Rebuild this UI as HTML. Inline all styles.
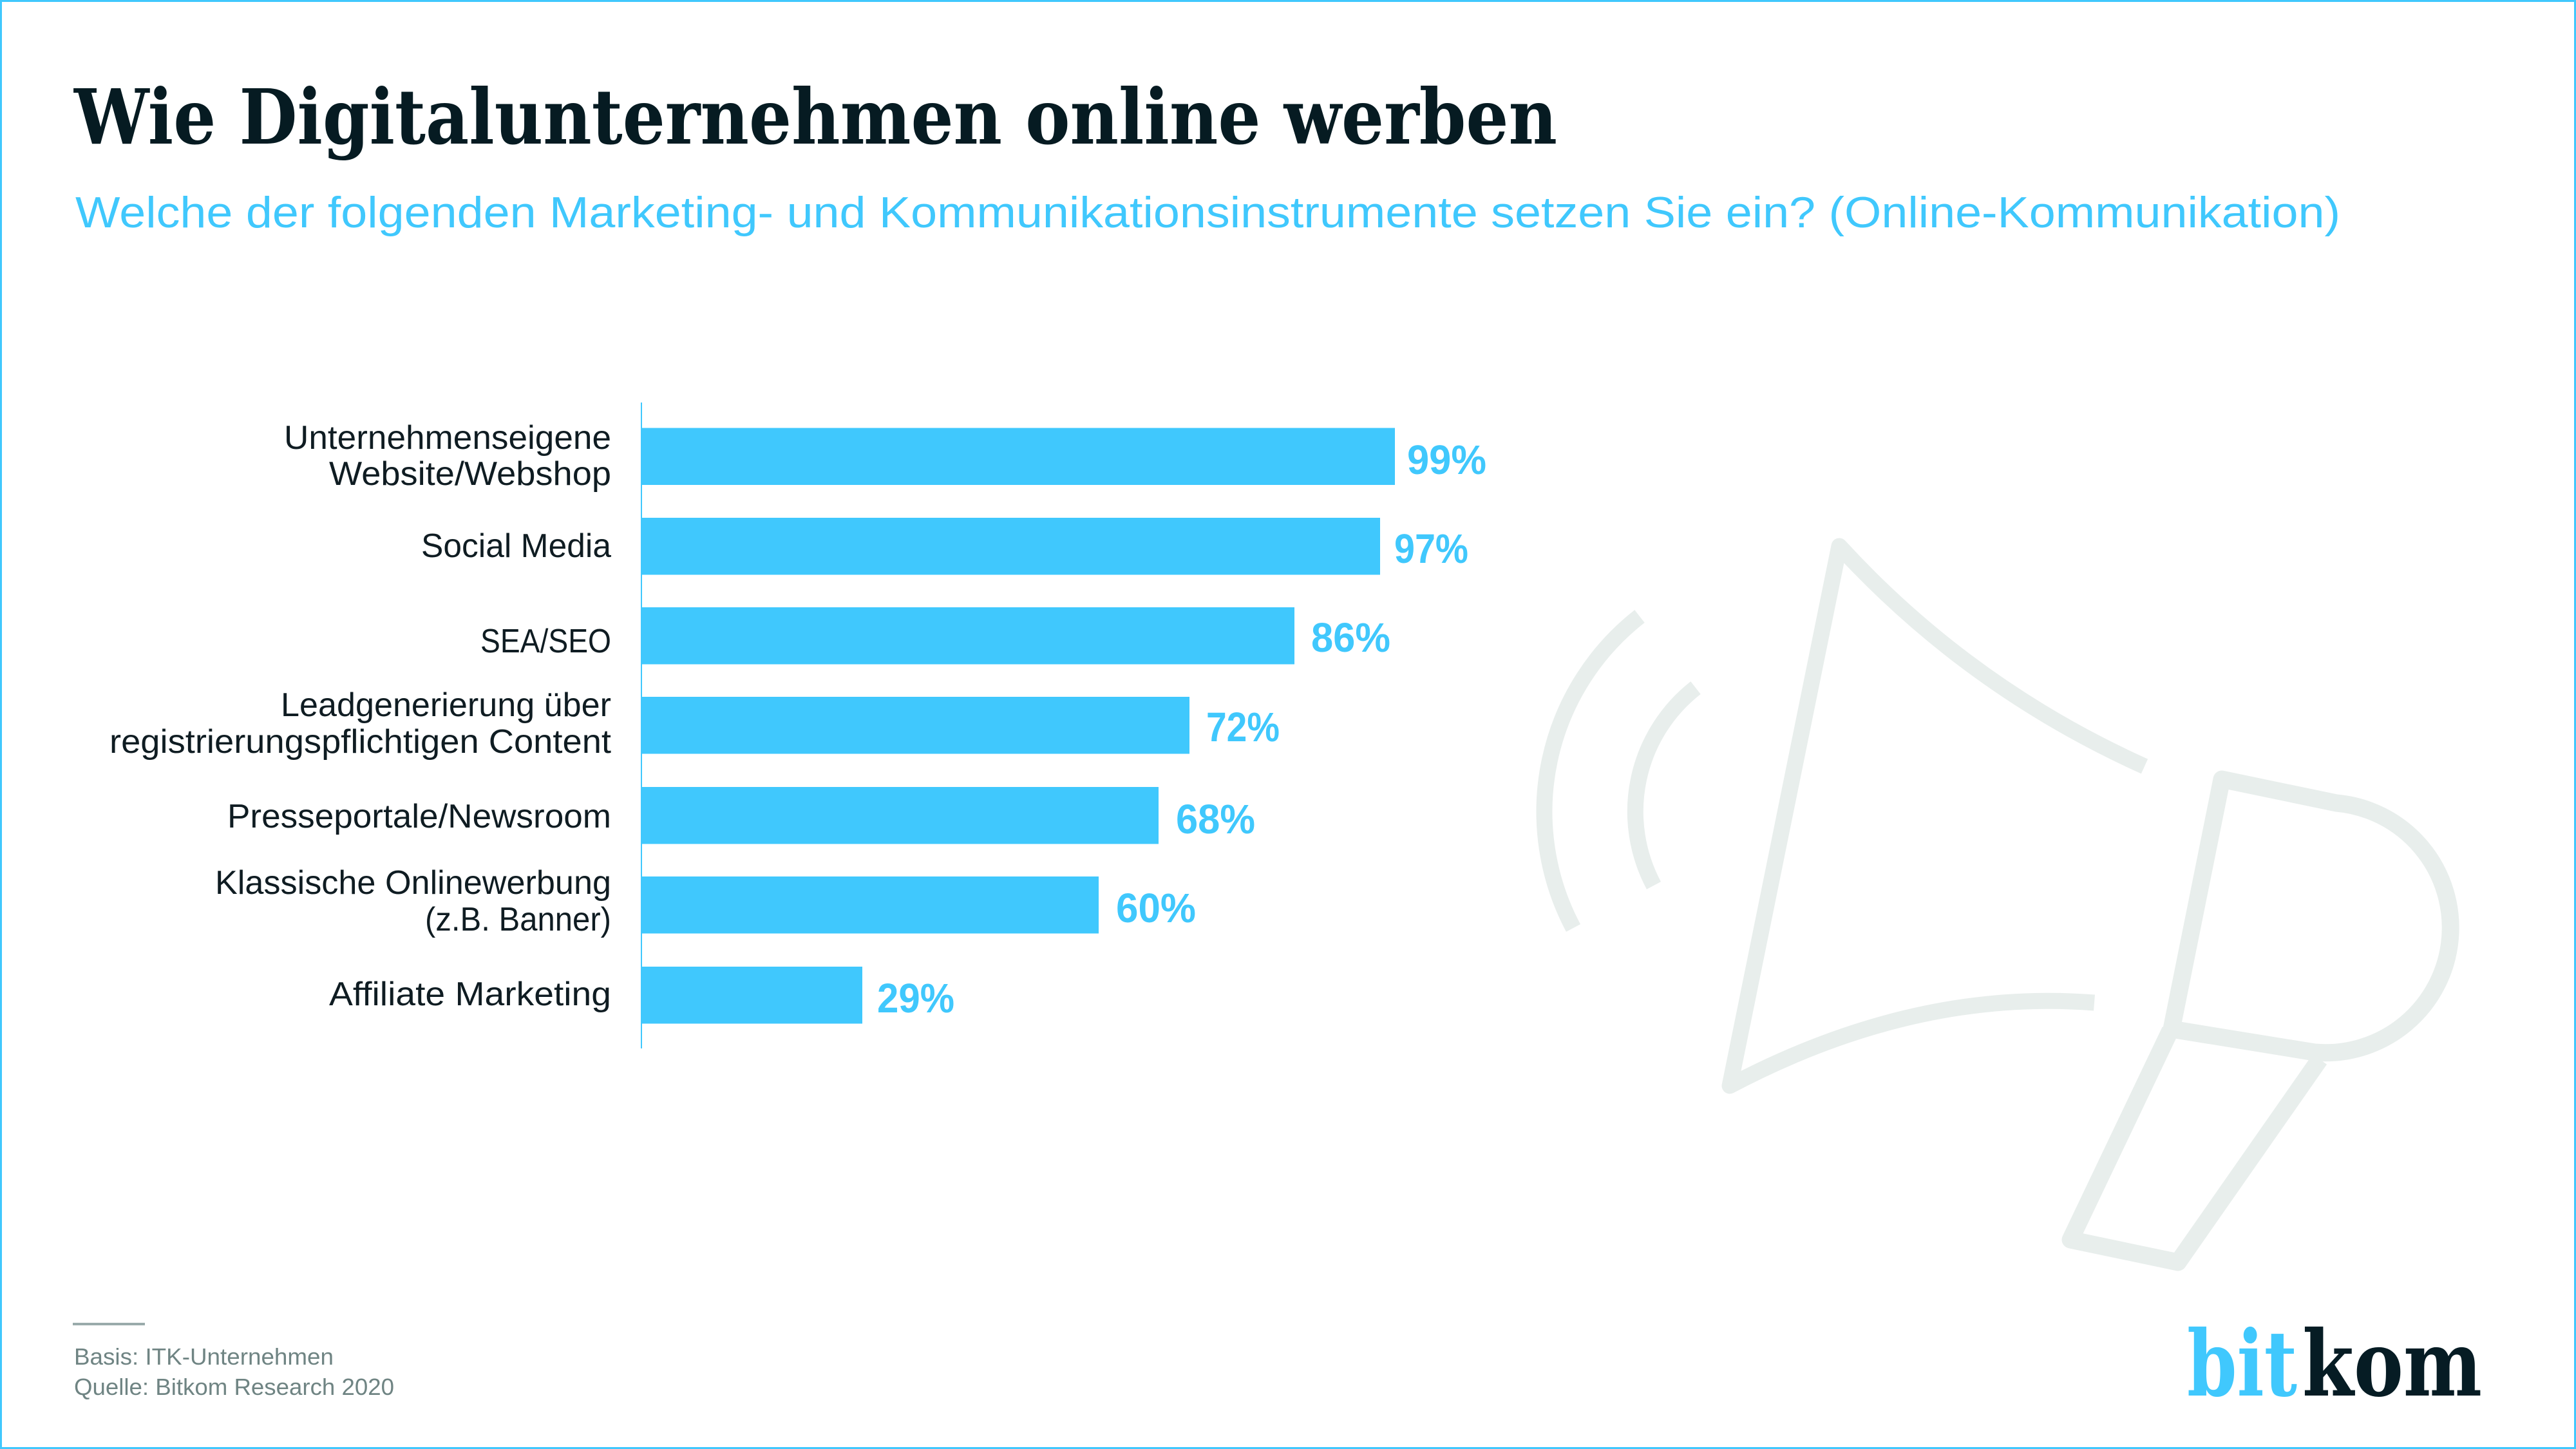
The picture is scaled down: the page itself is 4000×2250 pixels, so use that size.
<!DOCTYPE html>
<html>
<head>
<meta charset="utf-8">
<style>
html,body{margin:0;padding:0;background:#fff;}
svg{display:block;}
</style>
</head>
<body>
<svg xmlns="http://www.w3.org/2000/svg" width="4000" height="2250" viewBox="0 0 4000 2250">
  <rect x="0" y="0" width="4000" height="2250" fill="#ffffff"/>
  <rect x="1.5" y="1.5" width="3997" height="2247" fill="none" stroke="#40C8FD" stroke-width="3"/>

  <!-- Megaphone background graphic -->
  <g fill="none" stroke="#E8EEEC" stroke-linejoin="round">
    <path d="M 2546 957 A 385 385 0 0 0 2443 1441" stroke-width="25"/>
    <path d="M 2633 1068 A 244 244 0 0 0 2568 1375" stroke-width="25"/>
    <path d="M 3330 1190 Q 3057 1067 2856 848 L 2686 1686 Q 2972 1535 3252 1557" stroke-width="25"/>
    <path d="M 3372 1598 L 3450 1210 L 3628 1247 A 194 194 0 0 1 3594 1634 Z" stroke-width="27"/>
    <path d="M 3370 1600 L 3215 1925 L 3382 1960 L 3602 1645" stroke-width="27"/>
  </g>

  <!-- Title -->
  <text x="115" y="223" font-family="'DejaVu Serif','Liberation Serif',serif" font-weight="bold" font-size="118" fill="#061B22" textLength="2303" lengthAdjust="spacingAndGlyphs">Wie Digitalunternehmen online werben</text>
  <text x="117" y="353" font-family="'Liberation Sans',sans-serif" font-size="68" fill="#40C8FD" textLength="3517" lengthAdjust="spacingAndGlyphs">Welche der folgenden Marketing- und Kommunikationsinstrumente setzen Sie ein? (Online-Kommunikation)</text>

  <!-- Axis -->
  <line x1="996" y1="625" x2="996" y2="1628" stroke="#40C8FD" stroke-width="2"/>

  <!-- Bars -->
  <g fill="#40C8FD">
    <rect x="996" y="664.5" width="1170" height="88.5"/>
    <rect x="996" y="804" width="1147" height="88.5"/>
    <rect x="995" y="943" width="1015" height="88.5"/>
    <rect x="996" y="1082" width="851" height="88.5"/>
    <rect x="996" y="1222" width="803" height="88.5"/>
    <rect x="996" y="1361" width="710" height="88.5"/>
    <rect x="996" y="1501" width="343" height="88.5"/>
  </g>

  <!-- Category labels -->
  <g font-family="'Liberation Sans',sans-serif" font-size="52" fill="#0F1C22">
    <text x="441" y="697" textLength="508" lengthAdjust="spacingAndGlyphs">Unternehmenseigene</text>
    <text x="511" y="753" textLength="438" lengthAdjust="spacingAndGlyphs">Website/Webshop</text>
    <text x="654" y="865" textLength="295" lengthAdjust="spacingAndGlyphs">Social Media</text>
    <text x="746" y="1013" textLength="203" lengthAdjust="spacingAndGlyphs">SEA/SEO</text>
    <text x="436" y="1112" textLength="513" lengthAdjust="spacingAndGlyphs">Leadgenerierung über</text>
    <text x="170" y="1169" textLength="779" lengthAdjust="spacingAndGlyphs">registrierungspflichtigen Content</text>
    <text x="353" y="1285" textLength="596" lengthAdjust="spacingAndGlyphs">Presseportale/Newsroom</text>
    <text x="334" y="1388" textLength="615" lengthAdjust="spacingAndGlyphs">Klassische Onlinewerbung</text>
    <text x="660" y="1445" textLength="289" lengthAdjust="spacingAndGlyphs">(z.B. Banner)</text>
    <text x="511" y="1561" textLength="438" lengthAdjust="spacingAndGlyphs">Affiliate Marketing</text>
  </g>

  <!-- Value labels -->
  <g font-family="'Liberation Sans',sans-serif" font-weight="bold" font-size="64" fill="#40C8FD">
    <text x="2185" y="736" textLength="123" lengthAdjust="spacingAndGlyphs">99%</text>
    <text x="2165" y="874" textLength="115" lengthAdjust="spacingAndGlyphs">97%</text>
    <text x="2036" y="1012" textLength="123" lengthAdjust="spacingAndGlyphs">86%</text>
    <text x="1873" y="1151" textLength="114" lengthAdjust="spacingAndGlyphs">72%</text>
    <text x="1826" y="1294" textLength="123" lengthAdjust="spacingAndGlyphs">68%</text>
    <text x="1733" y="1432" textLength="124" lengthAdjust="spacingAndGlyphs">60%</text>
    <text x="1362" y="1572" textLength="120" lengthAdjust="spacingAndGlyphs">29%</text>
  </g>

  <!-- Footer -->
  <rect x="113" y="2054" width="112" height="4" fill="#9AABAB"/>
  <g font-family="'Liberation Sans',sans-serif" font-size="36" fill="#6F8483">
    <text x="115" y="2119" textLength="403" lengthAdjust="spacingAndGlyphs">Basis: ITK-Unternehmen</text>
    <text x="115" y="2166" textLength="497" lengthAdjust="spacingAndGlyphs">Quelle: Bitkom Research 2020</text>
  </g>

  <!-- Logo -->
  <g font-family="'DejaVu Serif','Liberation Serif',serif" font-weight="bold" font-size="141">
    <text x="3396" y="2167" fill="#40C8FD" textLength="171" lengthAdjust="spacingAndGlyphs">bit</text>
    <text x="3575" y="2167" fill="#061C24" textLength="279" lengthAdjust="spacingAndGlyphs">kom</text>
  </g>
</svg>
</body>
</html>
